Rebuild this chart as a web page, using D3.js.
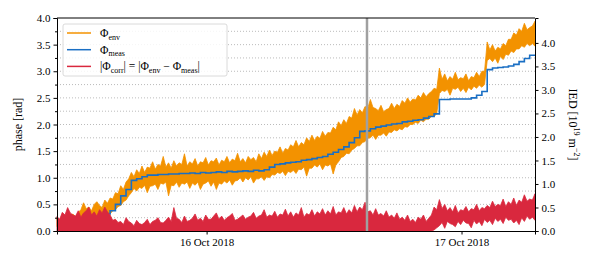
<!DOCTYPE html>
<meta charset="utf-8">
<script src="https://cdn.jsdelivr.net/npm/d3@7"></script>
<style>

body {
  margin: 0;
  background: #fff;
}

svg {
  font-family: "Liberation Serif", "Times New Roman", "DejaVu Serif", serif;
  font-size: 11px;
}

.grid line {
  stroke: #aaa;
  stroke-width: 0.8;
  stroke-dasharray: 1,2;
}

.axis path,
.axis line {
  stroke: #000;
}

.axis text {
  font-family: "Liberation Serif", "Times New Roman", "DejaVu Serif", serif;
  font-size: 11px;
  fill: #000;
}

</style>
<body>
<script>

  // Sampling: one value every 15 minutes, from 15 Oct 2018 09:55.
  // The main arrays hold the half-hour samples, the *Mid arrays
  // hold the samples in between.
  var startTime = new Date(2018, 9, 15, 9, 55),
      stepMinutes = 30;

  // Φ_env envelope (upper / lower edge of the noisy band), rad
  var envHigh = [0.25,0.30,0.22,0.32,0.35,0.53,0.45,0.50,0.48,0.58,
                 0.62,0.72,0.85,0.92,1.10,1.15,1.22,1.20,1.30,1.25,
                 1.40,1.28,1.32,1.28,1.45,1.30,1.36,1.30,1.38,1.32,
                 1.37,1.33,1.40,1.35,1.46,1.36,1.40,1.38,1.45,1.48,
                 1.52,1.50,1.58,1.55,1.62,1.70,1.66,1.75,1.80,1.78,
                 1.87,1.85,1.95,2.05,2.09,2.15,2.30,2.28,2.34,2.47,
                 2.30,2.36,2.28,2.40,2.38,2.45,2.50,2.48,2.55,2.60,
                 2.58,2.68,3.06,2.95,2.90,2.98,2.88,2.95,2.90,2.98,
                 3.00,3.55,3.50,3.45,3.52,3.60,3.72,3.80,3.90,3.82,
                 3.94];
  var envHighMid = [0.18,0.24,0.28,0.26,0.40,0.42,0.38,0.55,0.44,0.52,
                    0.60,0.70,0.78,0.98,1.02,1.08,1.10,1.18,1.16,1.22,
                    1.20,1.18,1.22,1.25,1.22,1.26,1.22,1.28,1.24,1.30,
                    1.24,1.30,1.28,1.32,1.30,1.28,1.34,1.30,1.36,1.40,
                    1.42,1.48,1.46,1.52,1.58,1.58,1.62,1.68,1.70,1.74,
                    1.78,1.84,1.90,1.98,2.02,2.12,2.18,2.22,2.30,2.32,
                    2.26,2.24,2.30,2.30,2.34,2.40,2.42,2.46,2.50,2.52,
                    2.62,2.66,2.85,2.82,2.85,2.84,2.86,2.82,2.88,2.90,
                    3.00,3.40,3.38,3.42,3.48,3.60,3.68,3.75,3.78,3.85];
  var envLow  = [0.08,0.08,0.08,0.08,0.10,0.15,0.20,0.18,0.25,0.28,
                 0.32,0.40,0.48,0.58,0.72,0.75,0.80,0.72,0.85,0.78,
                 0.88,0.66,0.85,0.82,0.88,0.80,0.86,0.78,0.90,0.84,
                 0.78,0.88,0.90,0.86,0.95,0.92,0.96,0.90,0.98,0.95,
                 1.00,1.05,1.08,1.04,1.10,1.08,1.15,1.03,1.18,1.20,
                 1.15,1.22,1.07,1.30,1.40,1.45,1.55,1.60,1.68,1.75,
                 1.72,1.80,1.78,1.85,1.88,1.90,1.95,2.00,2.02,2.05,
                 2.10,2.15,2.58,2.62,2.55,2.66,2.62,2.60,2.65,2.68,
                 2.70,3.20,3.18,3.15,3.22,3.30,3.35,3.42,3.45,3.48,
                 3.47];
  var envLowMid = [0.08,0.08,0.08,0.10,0.12,0.22,0.24,0.26,0.30,0.34,
                   0.38,0.46,0.55,0.66,0.80,0.82,0.86,0.84,0.88,0.90,
                   0.92,0.86,0.92,0.90,0.92,0.90,0.92,0.88,0.94,0.92,
                   0.90,0.94,0.96,0.94,1.00,1.00,1.02,0.98,1.02,1.02,
                   1.06,1.10,1.12,1.12,1.14,1.16,1.20,1.18,1.24,1.26,
                   1.24,1.26,1.24,1.38,1.46,1.52,1.60,1.66,1.74,1.80,
                   1.80,1.84,1.86,1.90,1.92,1.96,2.00,2.04,2.08,2.10,
                   2.15,2.20,2.64,2.66,2.68,2.70,2.68,2.70,2.72,2.74,
                   2.75,3.24,3.25,3.28,3.32,3.38,3.42,3.48,3.52,3.52];

  // Φ_meas, rad (no measurement before the 10th sample)
  var meas = [null,null,null,null,null,null,null,null,null,0.32,
              0.38,0.50,0.66,0.78,0.95,0.98,1.02,1.05,1.05,1.06,
              1.06,1.07,1.07,1.08,1.08,1.09,1.08,1.10,1.09,1.10,
              1.11,1.10,1.12,1.11,1.12,1.13,1.12,1.14,1.13,1.15,
              1.20,1.25,1.26,1.28,1.29,1.30,1.33,1.34,1.36,1.38,
              1.40,1.44,1.48,1.53,1.58,1.66,1.75,1.87,1.88,1.92,
              1.95,1.97,1.99,2.01,2.02,2.05,2.06,2.08,2.09,2.12,
              2.15,2.20,2.47,2.47,2.48,2.48,2.48,2.48,2.50,2.55,
              2.62,3.03,3.06,3.07,3.08,3.10,3.13,3.18,3.24,3.30,
              3.29];

  // |Φ_corr| band, rad
  var corrHigh = [0.27,0.35,0.44,0.30,0.38,0.34,0.45,0.36,0.40,0.45,
                  0.30,0.22,0.18,0.25,0.15,0.20,0.12,0.22,0.18,0.25,
                  0.15,0.26,0.44,0.22,0.28,0.20,0.32,0.24,0.30,0.22,
                  0.34,0.28,0.25,0.33,0.22,0.30,0.26,0.35,0.28,0.40,
                  0.30,0.37,0.32,0.41,0.36,0.34,0.44,0.33,0.40,0.36,
                  0.42,0.38,0.46,0.36,0.44,0.40,0.48,0.45,0.54,0.38,
                  0.42,0.33,0.38,0.30,0.34,0.26,0.30,0.22,0.26,0.30,
                  0.24,0.45,0.59,0.50,0.44,0.48,0.40,0.46,0.42,0.50,
                  0.44,0.48,0.56,0.50,0.60,0.55,0.62,0.58,0.68,0.60,
                  0.70];
  var corrHighMid = [0.22,0.30,0.34,0.28,0.26,0.38,0.30,0.28,0.34,0.36,
                     0.20,0.16,0.12,0.18,0.10,0.14,0.16,0.12,0.20,0.16,
                     0.20,0.18,0.24,0.16,0.18,0.24,0.20,0.18,0.22,0.28,
                     0.22,0.20,0.28,0.20,0.26,0.22,0.28,0.24,0.30,0.26,
                     0.28,0.26,0.30,0.28,0.26,0.30,0.26,0.30,0.28,0.32,
                     0.30,0.32,0.30,0.34,0.32,0.34,0.36,0.40,0.36,0.30,
                     0.30,0.28,0.26,0.24,0.22,0.20,0.18,0.16,0.22,0.18,
                     0.30,0.40,0.42,0.38,0.36,0.34,0.38,0.36,0.40,0.38,
                     0.42,0.44,0.46,0.48,0.46,0.50,0.48,0.54,0.56,0.58];
  var corrLow  = [0,0,0,0,0,0,0,0,0,0,
                  0,0,0,0,0,0,0,0,0,0,
                  0,0,0,0,0,0,0,0,0,0,
                  0,0,0,0,0,0,0,0,0,0,
                  0,0,0,0,0,0,0,0,0,0,
                  0,0,0,0,0,0,0,0,0,0,
                  0,0,0,0,0,0,0,0,0,0,
                  0,0.02,0.10,0.05,0.14,0.08,0.12,0.15,0.06,0.13,
                  0.10,0.16,0.12,0.18,0.14,0.20,0.15,0.12,0.18,0.22,
                  0.20];
  var corrLowMid = [0,0,0,0,0,0,0,0,0,0,
                    0,0,0,0,0,0,0,0,0,0,
                    0,0,0,0,0,0,0,0,0,0,
                    0,0,0,0,0,0,0,0,0,0,
                    0,0,0,0,0,0,0,0,0,0,
                    0,0,0,0,0,0,0,0,0,0,
                    0,0,0,0,0,0,0,0,0,0,
                    0,0.06,0.16,0.18,0.12,0.18,0.20,0.14,0.20,0.18,
                    0.22,0.20,0.24,0.22,0.26,0.22,0.20,0.25,0.28,0.26];

  var phaseTicks = [0, 0.5, 1, 1.5, 2, 2.5, 3, 3.5, 4],
      phaseMinorTicks = [0.25, 0.75, 1.25, 1.75, 2.25, 2.75, 3.25, 3.75],
      gridValues = [0.25, 0.5, 0.75, 1, 1.25, 1.5, 1.75, 2, 2.25, 2.5, 2.75, 3, 3.25, 3.5, 3.75],
      iedTicks = [0, 0.5, 1, 1.5, 2, 2.5, 3, 3.5, 4],
      dateTicks = [new Date(2018, 9, 16), new Date(2018, 9, 17)],
      markerTime = new Date(2018, 9, 16, 15, 6);

  var colEnv = "#f39200",
      colMeas = "#1a6fc4",
      colCorr = "#d9283e";

  // Set the dimensions of the canvas.
  var margin = {top: 18, right: 61, bottom: 35, left: 57},
      width = 596 - margin.left - margin.right,
      height = 266 - margin.top - margin.bottom;

  var svg = d3.select("body").append("svg")
    .attr("width", width + margin.left + margin.right)
    .attr("height", height + margin.top + margin.bottom);

  var chart = svg.append("g")
    .attr("transform", "translate(" + margin.left + "," + margin.top + ")");

  // Interleave the main samples with the in-between samples
  var stepMs = stepMinutes * 60000;
  var data = [];
  envHigh.forEach(function(d, i) {
    var t = startTime.getTime() + i * stepMs;
    data.push({t: new Date(t), envHi: d, envLo: envLow[i], meas: meas[i],
               corrHi: corrHigh[i], corrLo: corrLow[i]});
    if (i < envHighMid.length) {
      data.push({t: new Date(t + stepMs / 2), envHi: envHighMid[i], envLo: envLowMid[i], meas: meas[i],
                 corrHi: corrHighMid[i], corrLo: corrLowMid[i]});
    }
  });

  // Scales
  var x = d3.scaleTime()
    .domain(d3.extent(data, function(d) { return d.t; }))
    .range([0, width]);

  var y = d3.scaleLinear().domain([0, 4]).range([height, 0]);
  var yRight = d3.scaleLinear().domain([0, 4.53]).range([height, 0]);

  // Dotted grid at every minor tick
  chart.append("g")
    .attr("class", "grid")
    .selectAll("line")
    .data(gridValues)
    .enter().append("line")
    .attr("x1", 0)
    .attr("x2", width)
    .attr("y1", function(d) { return y(d); })
    .attr("y2", function(d) { return y(d); });

  // Series
  var envArea = d3.area()
    .x(function(d) { return x(d.t); })
    .y0(function(d) { return y(d.envLo); })
    .y1(function(d) { return y(d.envHi); });

  chart.append("path")
    .datum(data)
    .attr("d", envArea)
    .attr("fill", colEnv)
    .attr("stroke", colEnv)
    .attr("stroke-width", 0.8);

  var measLine = d3.line()
    .defined(function(d) { return d.meas != null; })
    .x(function(d) { return x(d.t); })
    .y(function(d) { return y(d.meas); })
    .curve(d3.curveStepAfter);

  chart.append("path")
    .datum(data)
    .attr("d", measLine)
    .attr("fill", "none")
    .attr("stroke", colMeas)
    .attr("stroke-width", 1.6);

  var corrArea = d3.area()
    .x(function(d) { return x(d.t); })
    .y0(function(d) { return y(d.corrLo); })
    .y1(function(d) { return y(d.corrHi); });

  chart.append("path")
    .datum(data)
    .attr("d", corrArea)
    .attr("fill", colCorr)
    .attr("stroke", colCorr)
    .attr("stroke-width", 0.8);

  // Grey marker line
  chart.append("line")
    .attr("x1", x(markerTime))
    .attr("x2", x(markerTime))
    .attr("y1", 0)
    .attr("y2", height)
    .attr("stroke", "#a0a0a0")
    .attr("stroke-width", 2.5);

  // Axes
  var fmt = d3.format(".1f");

  chart.append("g")
    .attr("class", "axis")
    .call(d3.axisLeft(y).tickValues(phaseMinorTicks).tickSize(2).tickFormat(""))
    .call(function(g) { g.select(".domain").remove(); });

  chart.append("g")
    .attr("class", "axis")
    .call(d3.axisLeft(y).tickValues(phaseTicks).tickSize(3.5).tickPadding(3).tickFormat(fmt));

  chart.append("g")
    .attr("class", "axis")
    .attr("transform", "translate(" + width + ",0)")
    .call(d3.axisRight(yRight).tickValues(iedTicks).tickSize(3.5).tickPadding(3).tickFormat(fmt));

  chart.append("g")
    .attr("class", "axis")
    .attr("transform", "translate(0," + height + ")")
    .call(d3.axisBottom(x).tickValues(dateTicks).tickSize(3.5).tickPadding(4)
      .tickFormat(d3.timeFormat("%d %b %Y")));

  // Top spine
  chart.append("line")
    .attr("x1", 0).attr("x2", width)
    .attr("y1", 0).attr("y2", 0)
    .attr("stroke", "#000");

  // Axis labels
  svg.append("text")
    .attr("transform", "translate(22," + (margin.top + height / 2) + ") rotate(-90)")
    .attr("text-anchor", "middle")
    .attr("font-size", "12px")
    .text("phase [rad]");

  var iedLabel = svg.append("text")
    .attr("transform", "translate(569," + (margin.top + height / 2) + ") rotate(90)")
    .attr("text-anchor", "middle")
    .attr("font-size", "12px");
  iedLabel.append("tspan").text("IED  [10");
  iedLabel.append("tspan").attr("font-size", "8px").attr("dy", "-5").text("19");
  iedLabel.append("tspan").attr("dy", "5").text(" m");
  iedLabel.append("tspan").attr("font-size", "8px").attr("dy", "-5").text("\u22122");
  iedLabel.append("tspan").attr("dy", "5").text("]");

  //////////////////// Legend ////////////////////
  var legend = chart.append("g")
    .attr("transform", "translate(6,6)");

  legend.append("rect")
    .attr("width", 164)
    .attr("height", 52)
    .attr("rx", 2)
    .attr("fill", "#fff")
    .attr("fill-opacity", 0.85)
    .attr("stroke", "#d0d0d0")
    .attr("stroke-width", 0.8);

  var items = [
    {color: colEnv, parts: [["\u03a6", ""], ["env", "sub"]]},
    {color: colMeas, parts: [["\u03a6", ""], ["meas", "sub"]]},
    {color: colCorr, parts: [["|\u03a6", ""], ["corr", "sub"], ["| = |\u03a6", ""], ["env", "sub"],
                             [" \u2212 \u03a6", ""], ["meas", "sub"], ["|", ""]]}
  ];

  var rows = legend.selectAll(".legend")
    .data(items)
    .enter().append("g")
    .attr("class", "legend")
    .attr("transform", function(d, i) { return "translate(0," + (9 + i * 16.7) + ")"; });

  rows.append("line")
    .attr("x1", 4).attr("x2", 28)
    .attr("stroke", function(d) { return d.color; })
    .attr("stroke-width", 1.5);

  var label = rows.append("text")
    .attr("x", 37)
    .attr("y", 4)
    .attr("font-size", "11.5px");

  label.each(function(d) {
    var t = d3.select(this);
    var prevSub = false;
    d.parts.forEach(function(p) {
      var s = t.append("tspan").text(p[0]);
      if (p[1] == "sub") {
        s.attr("font-size", "8px").attr("dy", 2.5);
        prevSub = true;
      } else if (prevSub) {
        s.attr("dy", -2.5);
        prevSub = false;
      }
    });
  });

</script>
</body>
</html>
